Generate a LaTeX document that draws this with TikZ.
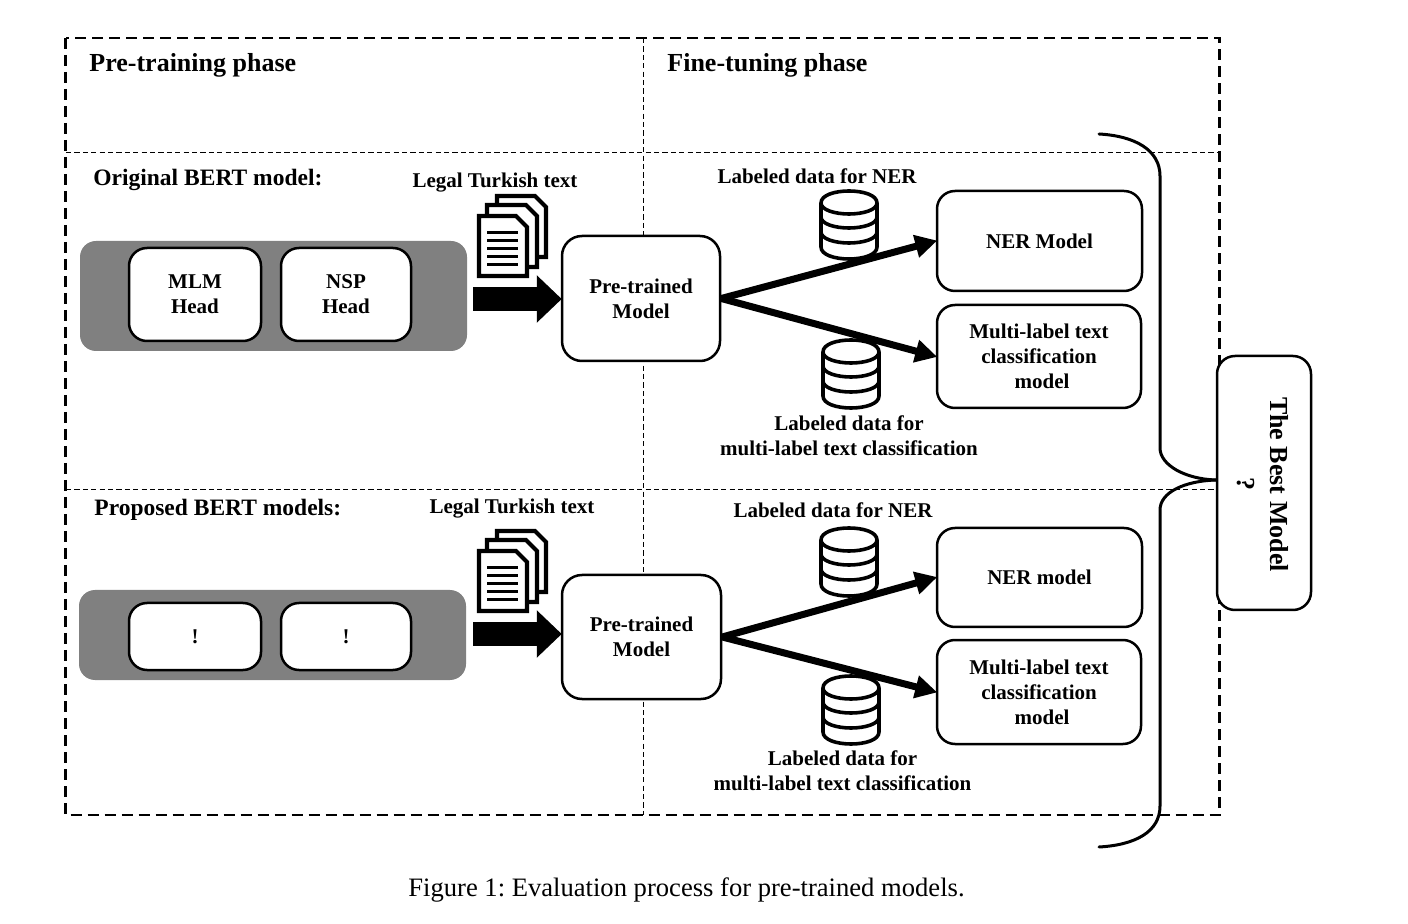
\documentclass[tikz,border=0pt]{standalone}
\usepackage{fontspec}
\setmainfont{Liberation Serif}
\usetikzlibrary{arrows.meta}
\tikzset{
  frameline/.style={line width=1.05pt,dash pattern=on 5.5pt off 3pt},
  thinline/.style={line width=0.5pt,dash pattern=on 2.6pt off 1.6pt},
  graybox/.style={fill=black!50,rounded corners=8pt},
  bx/.style 2 args={draw=black,fill=white,line width=1.25pt,rounded corners=9pt,
    minimum width=#1*0.5pt,minimum height=#2*0.5pt,inner sep=0pt,align=center,
    font=\fontsize{10.5}{12.5}\selectfont\bfseries,
    execute at begin node={\vspace*{1.2pt}}},
  lab/.style={inner sep=0pt,align=center,font=\fontsize{10.5}{12.5}\selectfont\bfseries},
  phase/.style={inner sep=0pt,anchor=west,font=\fontsize{13}{14}\selectfont\bfseries},
  sub/.style={inner sep=0pt,anchor=west,font=\fontsize{11.75}{13}\selectfont\bfseries},
  blockarrow/.style={line width=12pt,-{Triangle[length=12.5pt,width=23pt]},shorten >=-0.5pt},
  splitarrow/.style={line width=3.5pt,-{Triangle[length=11pt,width=11pt]},shorten >=-0.8pt},
  bracket/.style={line width=1.5pt,line cap=round},
  dbline/.style={line width=1.8pt,fill=white},
  docline/.style={line width=2.1pt,fill=white,line join=miter},
}
\newcommand{\cyl}[2]{%
  \begin{scope}[shift={(#1,#2)}]
    \draw[dbline] (-28,13) -- (-28,57)
      .. controls (-28,65) and (-14,69) .. (0,69)
      .. controls (14,69) and (28,65) .. (28,57) -- (28,13)
      .. controls (28,5) and (14,1) .. (0,1)
      .. controls (-14,1) and (-28,5) .. (-28,13) -- cycle;
    \draw[line width=1.8pt]
      (-28,13) .. controls (-28,20) and (-14,24) .. (0,24) .. controls (14,24) and (28,20) .. (28,13)
      (-28,27) .. controls (-28,34) and (-14,38) .. (0,38) .. controls (14,38) and (28,34) .. (28,27)
      (-28,42) .. controls (-28,49) and (-14,53) .. (0,53) .. controls (14,53) and (28,49) .. (28,42);
  \end{scope}}
\newcommand{\onepage}[4]{% left top right bottom
  \draw[docline] (#1,#2) -- ({#3-11},#2) -- (#3,{#2+11}) -- (#3,#4) -- (#1,#4) -- cycle;}
\newcommand{\docstack}[1]{%
  \begin{scope}[shift={(0,#1)}]
    \onepage{497}{196}{546}{257}
    \onepage{487}{205}{537}{267}
    \onepage{479}{216}{527}{276}
    \draw[line width=1.5pt]
      (487,233) -- (518,233) (487,241) -- (518,241) (487,249) -- (518,249)
      (487,257) -- (518,257) (487,265) -- (518,265);
  \end{scope}}
\begin{document}
\frenchspacing
\begin{tikzpicture}[x=0.5pt,y=-0.5pt]
\useasboundingbox (0,0) rectangle (1408,924);

% frame and dividers
\coordinate (fa) at (65.5,38);
\coordinate (fb) at (1219.5,815);
\draw[frameline] (fa) rectangle (fb);
\draw[thinline] (643.5,38) -- (643.5,815);
\draw[thinline] (66,153) -- (1220,153);
\draw[thinline] (66,490) -- (1217,490);

% headings
\node[phase] (h1) at (89,65) {Pre-training phase};
\node[phase] (h2) at (667,65) {Fine-tuning phase};
\node[sub] (s1) at (93,179.5) {Original BERT model:};
\node[sub] (s2) at (94,510) {Proposed BERT models:};

% gray containers
\node[graybox,minimum width=193.5pt,minimum height=55pt,inner sep=0pt] (g1) at (273.5,296) {};
\node[graybox,minimum width=193.5pt,minimum height=45pt,inner sep=0pt] (g2) at (272.5,635) {};

\node[bx={132}{93}] (mlm) at (195,294.5) {MLM\\Head};
\node[bx={130}{93}] (nsp) at (346,294.5) {NSP\\Head};
\node[bx={132}{67}] (e1) at (195,636.5) {!};
\node[bx={130}{67}] (e2) at (346,636.5) {!};

% documents
\node[lab] (t1) at (495,182.5) {Legal Turkish text};
\node[lab] (t2) at (512,509) {Legal Turkish text};
\docstack{0}
\docstack{335}

% pre-trained
\node[bx={158}{125},rounded corners=10pt] (p1) at (641,298.5) {Pre-trained\\Model};
\node[bx={159}{124},rounded corners=10pt] (p2) at (641.5,637) {Pre-trained\\Model};

\coordinate (ba1) at (473,299);
\coordinate (ba2) at (473,634);
\draw[blockarrow] (ba1) -- (ba1 -| p1.west);
\draw[blockarrow] (ba2) -- (ba2 -| p2.west);

% data labels
\node[lab] (l1) at (817,176) {Labeled data for NER};
\node[lab] (l2) at (849,436) {Labeled data for\\multi-label text classification};
\node[lab] (l3) at (833,510) {Labeled data for NER};
\node[lab] (l4) at (842.5,771) {Labeled data for\\multi-label text classification};

% databases
\cyl{849}{190}
\cyl{851}{339}
\cyl{849}{527}
\cyl{851}{675}

% result models
\node[bx={205}{100}] (n1) at (1039.5,241) {NER Model};
\node[bx={204}{103}] (m1) at (1039,356.5) {Multi-label text\\classification\\\hspace*{3pt}model};
\node[bx={205}{99}] (n2) at (1039.5,577.5) {NER model};
\node[bx={204}{104}] (m2) at (1039,692) {Multi-label text\\classification\\\hspace*{3pt}model};

\draw[splitarrow] (p1.east) -- (n1.west);
\draw[splitarrow] (p1.east) -- (m1.west);
\draw[splitarrow] (p2.east) -- (n2.west);
\draw[splitarrow] (p2.east) -- (m2.west);

% best model with its bracket
\node[bx={94}{254}] (best) at (1264,483) {};
\node[lab,rotate=-90,font=\fontsize{13}{16.5}\selectfont\bfseries] (bestt) at (1263,484.5) {The Best Model\\?};
\coordinate (bw) at (best.west |- 0,480);
\coordinate (bt) at (1099,134);
\coordinate (bb) at (1099,847);
\draw[bracket] (bt) .. controls (1135,136) and (1160,150) .. (1160,176)
  -- (1160,448) .. controls (1160,465) and (1185,479) .. (bw);
\draw[bracket] (bw) .. controls (1185,481) and (1160,492) .. (1160,510)
  -- (1160,806) .. controls (1160,832) and (1135,845) .. (bb);

% caption
\node[inner sep=0pt,font=\fontsize{13.3}{15}\selectfont] (cap) at (686.5,890) {Figure 1: Evaluation process for pre-trained models.};
\end{tikzpicture}
\end{document}
